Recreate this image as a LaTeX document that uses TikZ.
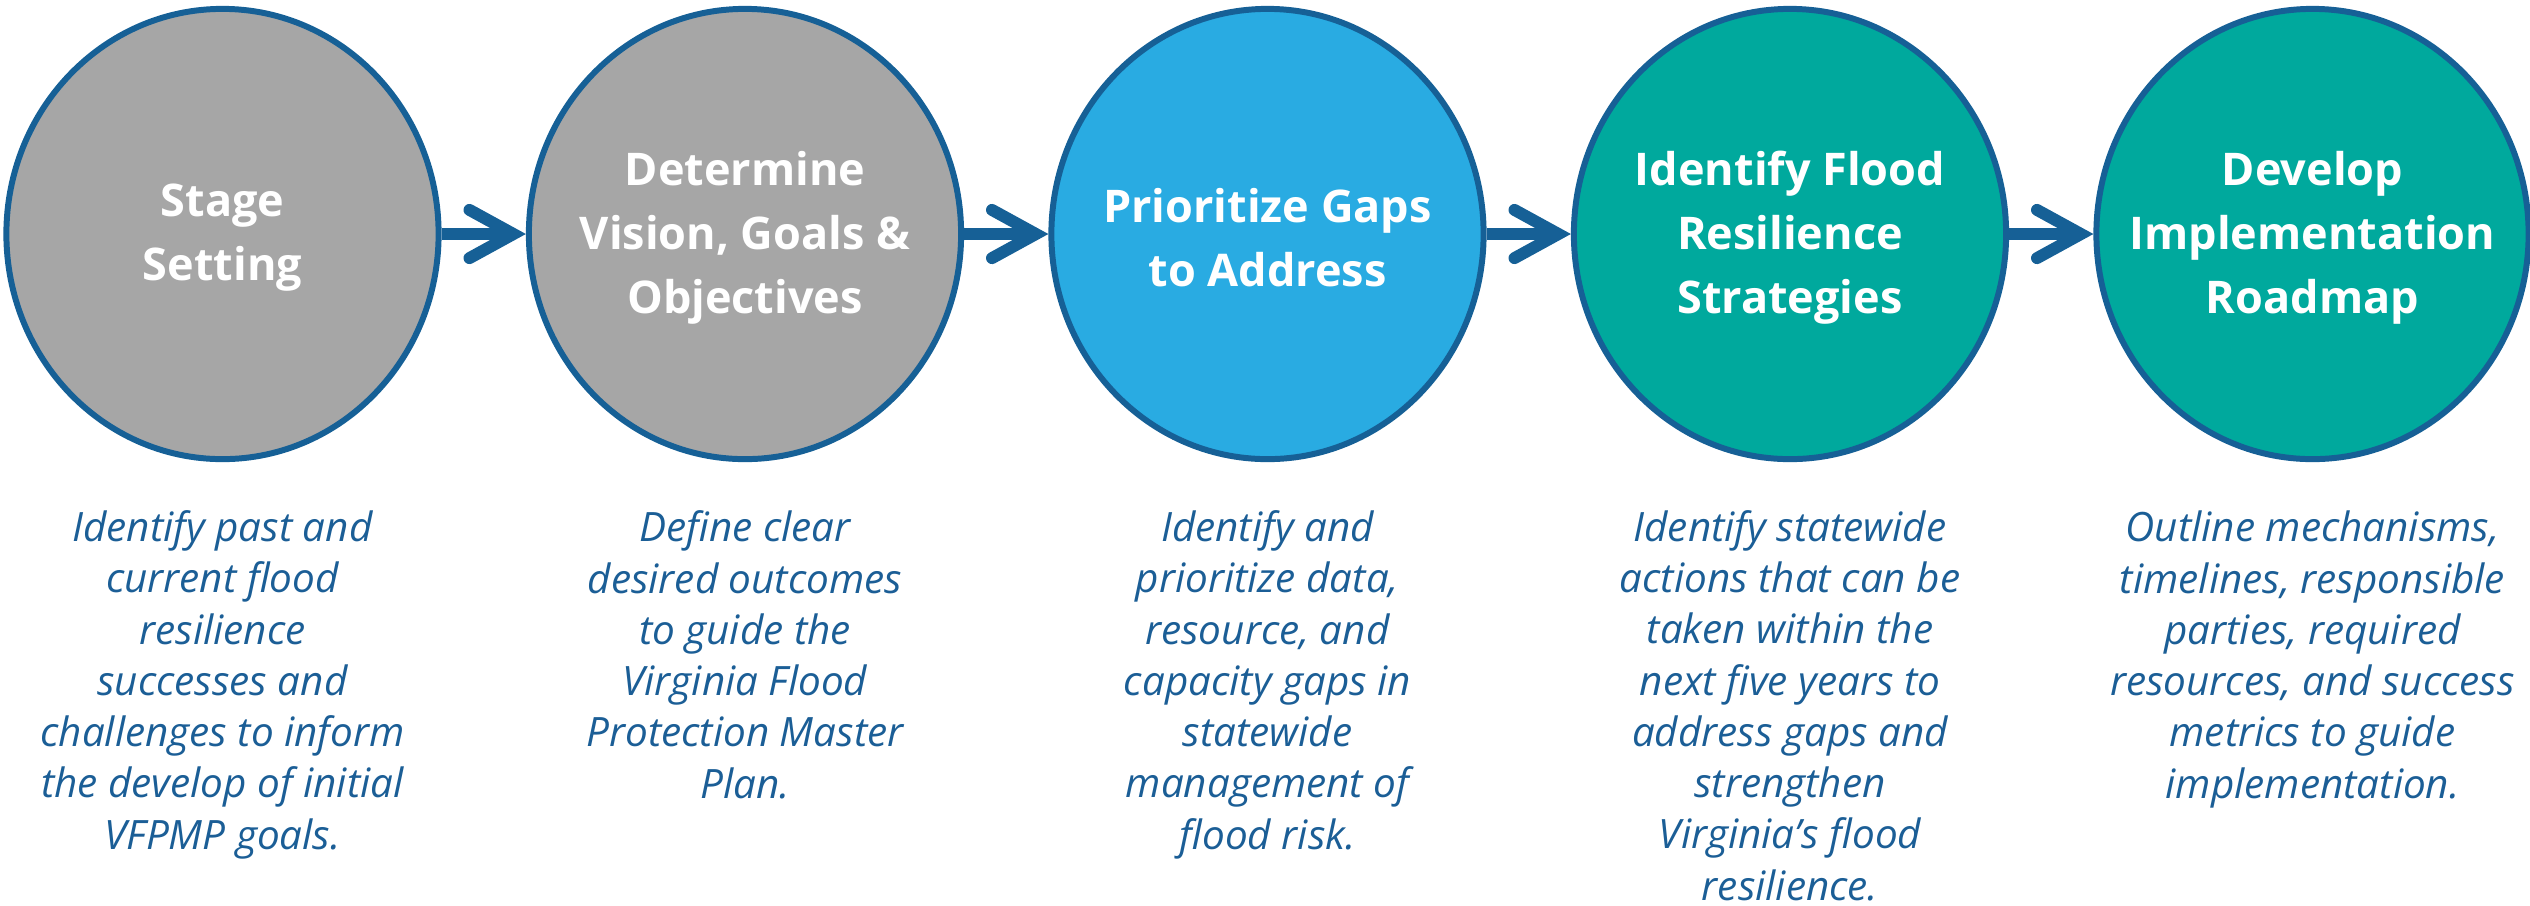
\documentclass[tikz,border=0pt]{standalone}
\usepackage{fontspec}
\setmainfont{Open Sans}
\usetikzlibrary{shapes.geometric,arrows.meta}
\definecolor{bord}{HTML}{166096}
\definecolor{gr}{HTML}{A6A6A6}
\definecolor{lb}{HTML}{29ABE2}
\definecolor{tl}{HTML}{00A99D}
\definecolor{txt}{HTML}{1B5E96}
\begin{document}
\begin{tikzpicture}[x=0.01cm,y=-0.01cm,
  stagecirc/.style={ellipse, draw=bord, line width=1.7pt, minimum width=4.32cm, minimum height=4.50cm, inner sep=0pt},
  headtxt/.style={text=white, align=center, inner sep=0pt, yshift=-0.04cm, font=\fontsize{12.8pt}{18.2pt}\selectfont\bfseries},
  desctxt/.style={text=txt, align=center, anchor=base, inner sep=0pt, font=\fontsize{11.5pt}{14.57pt}\selectfont\itshape},
  conn/.style={draw=bord, line width=3.4pt, -{Straight Barb[length=12.5pt,width=13.7pt,line cap=round,line join=miter]}}
]
\useasboundingbox (0,0) rectangle (2530,905);

\node[stagecirc, fill=gr] (c1) at (222.5,234) {};
\node[stagecirc, fill=gr] (c2) at (745,234) {};
\node[stagecirc, fill=lb] (c3) at (1267.5,234) {};
\node[stagecirc, fill=tl] (c4) at (1790,234) {};
\node[stagecirc, fill=tl] (c5) at (2312.5,234) {};

\node[headtxt] (h1) at (c1.center) {Stage\\Setting};
\node[headtxt] (h2) at (c2.center) {Determine\\Vision, Goals \&\\Objectives};
\node[headtxt] (h3) at (c3.center) {Prioritize Gaps\\to Address};
\node[headtxt] (h4) at (c4.center) {Identify Flood\\Resilience\\Strategies};
\node[headtxt] (h5) at (c5.center) {Develop\\Implementation\\Roadmap};

\draw[conn] (c1) -- (c2);
\draw[conn] (c2) -- (c3);
\draw[conn] (c3) -- (c4);
\draw[conn] (c4) -- (c5);

% base anchor = baseline of the last line; first line baseline at y=542, line pitch 51.2
\node[desctxt] (d1) at (222.5,849) {Identify past and\\current flood\\resilience\\successes and\\challenges to inform\\the develop of initial\\VFPMP goals.};
\node[desctxt] (d2) at (745,798) {Define clear\\desired outcomes\\to guide the\\Virginia Flood\\Protection Master\\Plan.};
\node[desctxt] (d3) at (1267.5,849) {Identify and\\prioritize data,\\resource, and\\capacity gaps in\\statewide\\management of\\flood risk.};
\node[desctxt] (d4) at (1790,900) {Identify statewide\\actions that can be\\taken within the\\next five years to\\address gaps and\\strengthen\\Virginia’s flood\\resilience.};
\node[desctxt] (d5) at (2312.5,798) {Outline mechanisms,\\timelines, responsible\\parties, required\\resources, and success\\metrics to guide\\implementation.};
\end{tikzpicture}
\end{document}
